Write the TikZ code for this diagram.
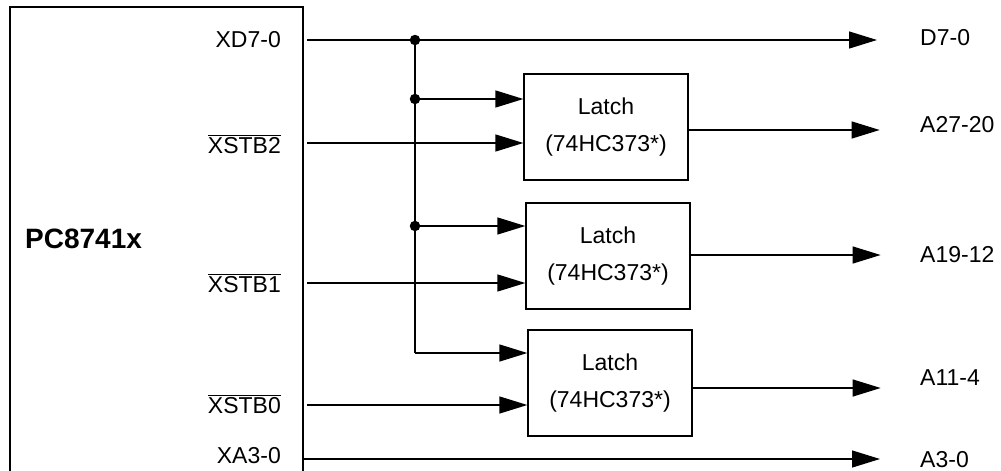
\documentclass[tikz,border=0pt]{standalone}
\usepackage{fontspec}
\setmainfont{Liberation Sans}
\usetikzlibrary{arrows.meta}
\begin{document}
\begin{tikzpicture}[x=1pt,y=-1pt,
  wire/.style={line width=1.3pt},
  arr/.style={wire,-{Triangle[length=28pt,width=17pt]}},
  latch/.style={draw,line width=1.3pt,minimum width=164pt,minimum height=106pt,align=center,font=\fontsize{23}{37}\selectfont},
  pinlbl/.style={anchor=base east,inner sep=0pt,font=\fontsize{23}{28}\selectfont},
  outlbl/.style={anchor=base west,inner sep=0pt,font=\fontsize{23}{28}\selectfont},
  dotn/.style={circle,fill=black,inner sep=0pt,minimum size=10.5pt}]
\useasboundingbox (0,0) rectangle (1001,471);
% PC8741x box (cut off at bottom)
\draw[wire] (10,475) -- (10,7) -- (303,7) -- (303,475);
\node[anchor=base west,inner sep=0pt,font=\fontsize{28}{33}\selectfont\bfseries] (pc) at (25,248) {PC8741x};
% pin labels
\node[pinlbl] (xd) at (281,47) {XD7-0};
\node[pinlbl] (s2) at (281,153) {$\overline{\mbox{XSTB2}}$};
\node[pinlbl] (s1) at (281,292) {$\overline{\mbox{XSTB1}}$};
\node[pinlbl] (s0) at (281,413) {$\overline{\mbox{XSTB0}}$};
\node[pinlbl] (xa) at (281,463) {XA3-0};
% output labels
\node[outlbl] (d70) at (920,45) {D7-0};
\node[outlbl] (a2720) at (920,132) {A27-20};
\node[outlbl] (a1912) at (920,262) {A19-12};
\node[outlbl] (a114) at (920,385) {A11-4};
\node[outlbl] (a30) at (920,467) {A3-0};
% latches
\node[latch] (L1) at (606,127) {Latch\\(74HC373*)};
\node[latch] (L2) at (608,256) {Latch\\(74HC373*)};
\node[latch] (L3) at (610,383) {Latch\\(74HC373*)};
% coordinates
\coordinate (xdS) at (307,40);
\coordinate (d70E) at (877,40);
\coordinate (b0) at (415,40);
\coordinate (b1) at (415,99);
\coordinate (b2) at (415,226);
\coordinate (b3) at (415,353);
\coordinate (s2S) at (307,143);
\coordinate (s1S) at (307,283);
\coordinate (s0S) at (307,405);
\coordinate (xaS) at (303,459);
\coordinate (a30E) at (880,459);
% wires
\draw[arr] (xdS) -- (d70E);
\draw[wire] (b0) -- (b3);
\draw[arr] (b1) -- (L1.west |- b1);
\draw[arr] (b2) -- (L2.west |- b2);
\draw[arr] (b3) -- (L3.west |- b3);
\draw[arr] (s2S) -- (L1.west |- s2S);
\draw[arr] (s1S) -- (L2.west |- s1S);
\draw[arr] (s0S) -- (L3.west |- s0S);
\draw[arr] ([yshift=-3pt]L1.east) -- ++(191,0) coordinate (o1);
\draw[arr] ([yshift=1pt]L2.east) -- ++(190,0) coordinate (o2);
\draw[arr] ([yshift=-5pt]L3.east) -- ++(188,0) coordinate (o3);
\draw[arr] (xaS) -- (a30E);
\node[dotn] at (b0) {};
\node[dotn] at (b1) {};
\node[dotn] at (b2) {};
\end{tikzpicture}
\end{document}
